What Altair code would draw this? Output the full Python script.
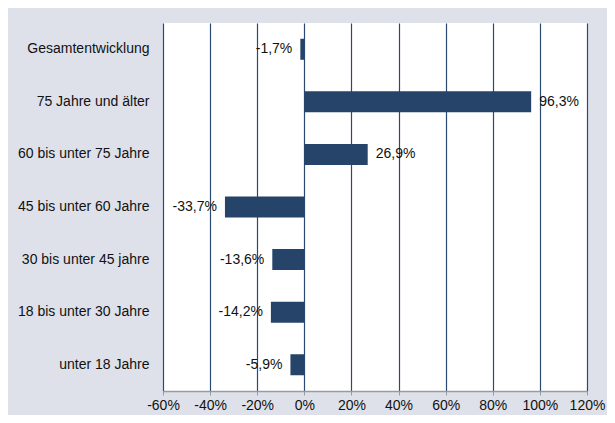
import altair as alt
import pandas as pd

categories = [
    "Gesamtentwicklung",
    "75 Jahre und älter",
    "60 bis unter 75 Jahre",
    "45 bis unter 60 Jahre",
    "30 bis unter 45 jahre",
    "18 bis unter 30 Jahre",
    "unter 18 Jahre",
]
values = [-1.7, 96.3, 26.9, -33.7, -13.6, -14.2, -5.9]
x_ticks = [-60, -40, -20, 0, 20, 40, 60, 80, 100, 120]

df = pd.DataFrame({"cat": categories, "v": values})

FONT = "Liberation Sans"
FS = 14
BAR = "#26436a"
GRID = "#2b4a72"
TXT = "#111111"

y_enc = alt.Y("cat:N", sort=categories, title=None,
              scale=alt.Scale(paddingInner=0.6, paddingOuter=0.3),
              axis=alt.Axis(domain=False, ticks=False, labelPadding=14,
                            labelFont=FONT, labelFontSize=FS, labelColor=TXT,
                            labelLimit=200))

x_scale = alt.Scale(domain=[-60, 120], nice=False, zero=False)

base = alt.Chart(df)

bars = base.mark_bar(color=BAR).encode(
    x=alt.X("v:Q", scale=x_scale, title=None,
            axis=alt.Axis(values=x_ticks, labelExpr="datum.value + '%'",
                          labelOverlap=False, labelFlush=False,
                          grid=True, gridColor=GRID, gridWidth=1.2, gridOpacity=1,
                          domain=True, domainColor="#9a9a9a", domainWidth=1.5,
                          ticks=True, tickColor="#9a9a9a", tickSize=4,
                          labelFont=FONT, labelFontSize=FS, labelColor=TXT,
                          labelPadding=3)),
    x2=alt.datum(0),
    y=y_enc,
)

lbl = base.transform_calculate(
    label="replace(replace(format(datum.v, '.1f'), '.', ','), '\u2212', '-') + '%'"
)

pos_labels = lbl.transform_filter("datum.v >= 0").mark_text(
    align="left", baseline="middle", dx=8, font=FONT, fontSize=FS, color=TXT
).encode(x=alt.X("v:Q", scale=x_scale), y=alt.Y("cat:N", sort=categories), text="label:N")

neg_labels = lbl.transform_filter("datum.v < 0").mark_text(
    align="right", baseline="middle", dx=-8, font=FONT, fontSize=FS, color=TXT
).encode(x=alt.X("v:Q", scale=x_scale), y=alt.Y("cat:N", sort=categories), text="label:N")

chart = alt.layer(bars, pos_labels, neg_labels).properties(
    width=424,
    height=368,
    background="#dee1ea",
    autosize=alt.AutoSizeParams(type="none"),
    padding={"left": 155, "top": 15, "right": 20, "bottom": 24},
).configure_view(fill="#ffffff", stroke=None)

chart.save("out.html", embed_options={"renderer": "svg", "actions": False})
